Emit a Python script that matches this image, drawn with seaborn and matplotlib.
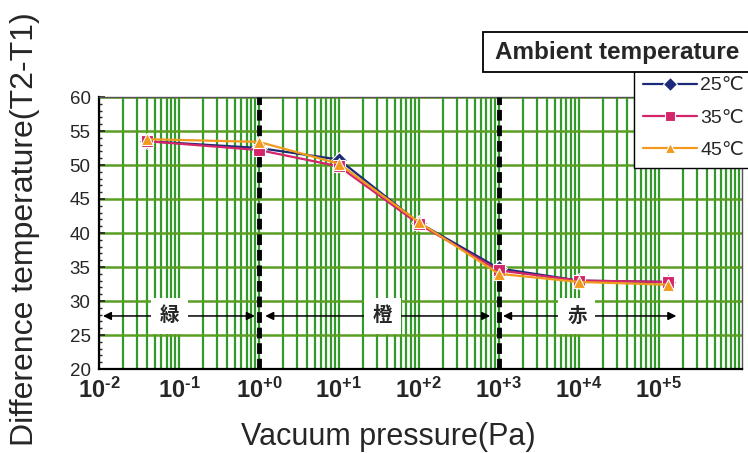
import numpy as np
import pandas as pd
import matplotlib
matplotlib.use("Agg")
import matplotlib.pyplot as plt
from matplotlib.patches import Rectangle
from matplotlib.ticker import LogLocator, MultipleLocator, NullFormatter
import seaborn as sns

# ---------------- data ----------------
pressure = [0.04, 1, 10, 100, 1000, 10000, 130000]
t25 = [53.5, 52.5, 50.8, 41.5, 34.8, 33.0, 32.8]
t35 = [53.5, 52.2, 49.8, 41.3, 34.5, 33.0, 32.8]
t45 = [53.8, 53.4, 50.2, 41.6, 34.0, 32.8, 32.4]
series_labels = ["25℃", "35℃", "45℃"]
y_ticks = [20, 25, 30, 35, 40, 45, 50, 55, 60]
x_ticks = [1e-2, 1e-1, 1e0, 1e1, 1e2, 1e3, 1e4, 1e5]
x_ticklabels = [r"$10^{\text{-}2}$", r"$10^{\text{-}1}$", r"$10^{\text{+}0}$", r"$10^{\text{+}1}$",
                r"$10^{\text{+}2}$", r"$10^{\text{+}3}$", r"$10^{\text{+}4}$", r"$10^{\text{+}5}$"]
regions = ["緑", "橙", "赤"]
region_bounds = [(0.0112, 0.89), (1.2, 780), (1130, 1.66e5)]
region_label_x = [0.077, 35, 9500]
region_y = 27.8
boundary_x = [1, 1000]

df = pd.DataFrame({
    "p": pressure * 3,
    "dT": t25 + t35 + t45,
    "amb": [series_labels[0]] * 7 + [series_labels[1]] * 7 + [series_labels[2]] * 7,
})

sns.set_theme(style="white")
plt.rcParams["font.family"] = ["Liberation Sans", "DejaVu Sans", "Noto Sans CJK JP"]
plt.rcParams["mathtext.fontset"] = "custom"
plt.rcParams["mathtext.bf"] = "Liberation Sans:bold"
plt.rcParams["mathtext.rm"] = "Liberation Sans:bold"
plt.rcParams["mathtext.default"] = "bf"

W, H = 748, 453
fig = plt.figure(figsize=(7.48, 4.53), dpi=100)
ax = fig.add_axes([99 / W, 1 - 369 / H, (742 - 99) / W, (369 - 97) / H])

palette = {"25℃": "#1c2a78", "35℃": "#d4246a", "45℃": "#f29a1e"}
markers = {"25℃": "D", "35℃": "s", "45℃": "^"}

sns.lineplot(data=df, x="p", y="dT", hue="amb", style="amb", palette=palette,
             markers=markers, dashes=False, ax=ax, lw=1.6, markersize=8,
             markeredgewidth=0.8, legend=True, zorder=6)

ax.set_xscale("log")
ax.set_xlim(1e-2, 1.1e6)
ax.set_ylim(20, 60)

ax.xaxis.set_minor_locator(LogLocator(base=10, subs=np.arange(2, 10), numticks=30))
ax.xaxis.set_minor_formatter(NullFormatter())
ax.set_xticks(x_ticks + [1e6])
ax.set_xticklabels(x_ticklabels + [""], fontsize=17)
ax.set_yticks(y_ticks)
ax.set_yticklabels([str(v) for v in y_ticks], fontsize=13.5)
ax.yaxis.set_minor_locator(MultipleLocator(1))
ax.grid(False)
ax.xaxis.grid(True, which="both", color="#33992a", lw=1.6, zorder=0)
ax.yaxis.grid(True, which="major", color="#5a9e22", lw=1.8, zorder=0)
ax.set_axisbelow(True)
ax.tick_params(axis="x", which="both", length=0, pad=6)
ax.tick_params(axis="y", which="major", length=4, direction="in", pad=6, left=True)
ax.tick_params(axis="y", which="minor", length=2, direction="in", left=True)
for s in ["left", "bottom"]:
    ax.spines[s].set_color("black")
    ax.spines[s].set_linewidth(1.6)
for s in ["top", "right"]:
    ax.spines[s].set_color("#555555")
    ax.spines[s].set_linewidth(1.0)

for bx in boundary_x:
    ax.axvline(bx, color="black", lw=3.5, ls=(0, (2.2, 1.0)), zorder=4)

for lab, (x0, x1), lx in zip(regions, region_bounds, region_label_x):
    ax.annotate("", xy=(x1, region_y), xytext=(x0, region_y),
                arrowprops=dict(arrowstyle="<|-|>", color="black", lw=1.1,
                                mutation_scale=12, shrinkA=0, shrinkB=0),
                zorder=5)
    ax.text(lx, region_y, lab, ha="center", va="center", fontsize=14,
            fontweight="bold", family=["Noto Sans CJK JP"], zorder=5.5,
            bbox=dict(facecolor="white", edgecolor="none", boxstyle="square,pad=0.45"))

ax.set_xlabel("")
ax.set_ylabel("")

handles, labels = ax.get_legend_handles_labels()
ax.get_legend().remove()
leg = fig.legend(handles, labels, loc="upper left",
                 bbox_to_anchor=(634 / W, 1 - 68 / H), frameon=True,
                 fancybox=False, framealpha=1, edgecolor="black",
                 fontsize=14, handlelength=2.8, handletextpad=0.15,
                 labelspacing=0.75, borderpad=0.45, borderaxespad=0,
                 markerscale=0.95)
leg.get_frame().set_linewidth(1.0)
leg.set_zorder(4)

fig.patches.append(Rectangle((483 / W, 1 - 72 / H), (770 - 483) / W, 40 / H,
                             transform=fig.transFigure, facecolor="white",
                             edgecolor="black", lw=1.3, zorder=8))
fig.text(495 / W, 1 - 52 / H, "Ambient temperature", fontsize=17.5,
         fontweight="bold", ha="left", va="center", zorder=9)

fig.text(388 / W, 1 - 437 / H, "Vacuum pressure(Pa)", fontsize=22,
         ha="center", va="center")
fig.text(25 / W, 1 - 229 / H, "Difference temperature(T2-T1)", fontsize=23,
         ha="center", va="center", rotation=90)

fig.savefig("out.png", dpi=100)
